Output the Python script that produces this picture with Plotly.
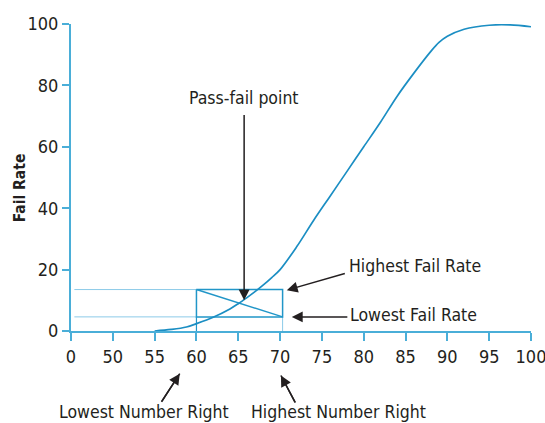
import plotly.graph_objects as go

# Fail-rate curve (x = number right, y = fail rate %)
curve_x = [55, 57, 58.8, 60, 62, 64, 65, 66, 67, 68, 69, 70, 72, 74, 76, 78, 80, 82, 84, 86, 88, 89, 90, 92, 95, 97.5, 100]
curve_y = [0, 0.5, 1.3, 2.4, 4.5, 7.2, 8.9, 10.8, 12.8, 15.0, 17.4, 20.0, 27.5, 36.0, 44.0, 52.0, 60.0, 68.0, 76.5, 84.0, 91.0, 94.0, 96.0, 98.3, 99.6, 99.7, 99.1]

# Axis ticks (first tick is a broken-axis "0")
x_tickvals = [45, 50, 55, 60, 65, 70, 75, 80, 85, 90, 95, 100]
x_ticktext = ["0", "50", "55", "60", "65", "70", "75", "80", "85", "90", "95", "100"]
y_tickvals = [0, 20, 40, 60, 80, 100]

# Pass-fail box
box_x = [60, 70.3]          # lowest / highest number right
box_y = [4.6, 13.5]         # lowest / highest fail rate
guide_start_x = 45.4

FONT = "Liberation Sans Narrow, Arial Narrow, DejaVu Sans Condensed, sans-serif"
AXIS_COLOR = "#4aaed8"
CURVE_COLOR = "#1b8ec3"
BOX_COLOR = "#2196c8"
GUIDE_COLOR = "#8ccbe8"
TEXT_COLOR = "#231f20"
LABEL_SIZE = 17.5

fig = go.Figure()

for yv in box_y:
    fig.add_trace(go.Scatter(x=[guide_start_x, box_x[0]], y=[yv, yv], mode="lines",
                             line=dict(color=GUIDE_COLOR, width=1), hoverinfo="skip"))
fig.add_trace(go.Scatter(x=[box_x[1], box_x[1]], y=[0, box_y[0]], mode="lines",
                         line=dict(color=GUIDE_COLOR, width=1), hoverinfo="skip"))
fig.add_trace(go.Scatter(x=[box_x[0], box_x[0]], y=[0, box_y[0]], mode="lines",
                         line=dict(color=BOX_COLOR, width=1.2), hoverinfo="skip"))
fig.add_trace(go.Scatter(x=[box_x[0], box_x[1], box_x[1], box_x[0], box_x[0]],
                         y=[box_y[1], box_y[1], box_y[0], box_y[0], box_y[1]],
                         mode="lines", line=dict(color=BOX_COLOR, width=1.5), hoverinfo="skip"))
fig.add_trace(go.Scatter(x=[box_x[0], box_x[1]], y=[box_y[1], box_y[0]], mode="lines",
                         line=dict(color=BOX_COLOR, width=1.5), hoverinfo="skip"))
fig.add_trace(go.Scatter(x=curve_x, y=curve_y, mode="lines", line_shape="spline",
                         line=dict(color=CURVE_COLOR, width=1.7), hoverinfo="skip"))

ARROW = dict(text="", showarrow=True, arrowhead=2, arrowsize=1.45, arrowwidth=1.5,
             arrowcolor=TEXT_COLOR, standoff=0, borderpad=0, font=dict(size=1))


def arrow(tip, tail):
    fig.add_annotation(x=tip[0], y=tip[1], ax=tail[0], ay=tail[1], xref="x", yref="y",
                       axref="x", ayref="y", **ARROW)


def arrow_below(tip, tail):
    """tip/tail: (x data, y paper). Shape draws the shaft, annotation the head."""
    fig.add_shape(type="line", xref="x", yref="paper",
                  x0=tail[0], y0=tail[1], x1=tip[0], y1=tip[1],
                  line=dict(color=TEXT_COLOR, width=1.5))
    fig.add_annotation(x=tip[0], y=tip[1], xref="x", yref="paper",
                       ax=(tail[0] - tip[0]) * 8.345, ay=-(tail[1] - tip[1]) * 306,
                       axref="pixel", ayref="pixel", **ARROW)


def label(x, y, text, xanchor="center", yref="y"):
    fig.add_annotation(x=x, y=y, xref="x", yref=yref, text=text, showarrow=False,
                       xanchor=xanchor, yanchor="middle",
                       font=dict(family=FONT, size=LABEL_SIZE, color=TEXT_COLOR))


arrow((65.7, 10.0), (65.7, 70.5))
label(65.7, 75.9, "Pass-fail point")
arrow((70.8, 13.3), (77.8, 18.8))
label(78.0, 21.3, "Highest Fail Rate", "left")
arrow((71.4, 4.6), (78.1, 4.6))
label(78.1, 5.3, "Lowest Fail Rate", "left")

arrow_below((58.0, -0.139), (55.82, -0.2307))
label(53.7, -0.263, "Lowest Number Right", yref="paper")
arrow_below((70.1, -0.145), (71.82, -0.2333))
label(77.0, -0.263, "Highest Number Right", yref="paper")

fig.add_annotation(x=-0.11, y=46.6, xref="paper", yref="y", text="<b>Fail Rate</b>",
                   textangle=-90, showarrow=False, xanchor="center", yanchor="middle",
                   font=dict(family=FONT, size=15.5, color=TEXT_COLOR))

axis_common = dict(showgrid=False, zeroline=False, showline=True, linecolor=AXIS_COLOR,
                   linewidth=2, ticks="outside", tickwidth=1.5, tickcolor=AXIS_COLOR,
                   automargin=False,
                   tickfont=dict(family=FONT, size=18, color=TEXT_COLOR))

fig.update_layout(
    width=545, height=423,
    margin=dict(l=71, r=14, t=24, b=92, autoexpand=False),
    paper_bgcolor="white", plot_bgcolor="white",
    showlegend=False,
    font=dict(family=FONT, size=18, color=TEXT_COLOR),
    xaxis=dict(range=[45, 100], tickvals=x_tickvals, ticktext=x_ticktext, ticklen=8,
               ticklabeloverflow="allow", **axis_common),
    yaxis=dict(range=[0, 100], tickvals=y_tickvals, ticklen=7, **axis_common),
)

fig.write_html("out.html", config={"displayModeBar": False},
               post_script="document.body.style.margin='0';")
